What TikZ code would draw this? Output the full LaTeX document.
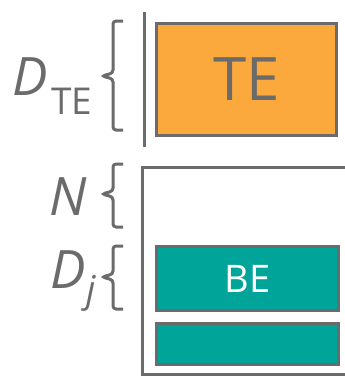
\documentclass[tikz,border=0pt]{standalone}
\usepackage{fontspec}
\setmainfont{Open Sans}
\definecolor{lgray}{HTML}{6B6B6B}
\definecolor{orng}{HTML}{FBA93D}
\definecolor{teal2}{HTML}{00A499}
\begin{document}
\begin{tikzpicture}[x=1pt,y=-1pt,
  box/.style={draw=lgray,line width=3pt,inner sep=0pt},
  brc/.style={draw=lgray,line width=3pt,rounded corners=3pt},
  lbl/.style={text=lgray,inner sep=0pt,anchor=base west}]
\useasboundingbox (0,0) rectangle (345,376);
% top part
\draw[draw=lgray,line width=3pt] (144,12) coordinate (vt) -- (144,147) coordinate (vb);
\node[box,fill=orng,minimum width=180pt,minimum height=112pt,anchor=north west] (te) at (155,22) {};
\node[text=lgray,font=\fontsize{60}{60}\selectfont] (tet) at (te.center) {TE};
% D_TE label
\node[lbl,font=\itshape\fontsize{53}{53}\selectfont] (dte) at (12,95) {D};
\node[lbl,font=\fontsize{37}{37}\selectfont] (dtes) at (51,114) {TE};
% braces
\draw[brc] (123,21) -- (113,21) -- (113,73) -- (102,76) -- (113,79) -- (113,130) -- (123,130);
\draw[brc] (123,164) -- (113,164) -- (113,191) -- (102,194) -- (113,197) -- (113,227) -- (123,227);
\draw[brc] (123,246) -- (113,246) -- (113,274) -- (102,277) -- (113,280) -- (113,309) -- (123,309);
% N label
\node[lbl,font=\itshape\fontsize{53}{53}\selectfont] (nl) at (49,215) {N};
% D_j label
\node[lbl,font=\itshape\fontsize{53}{53}\selectfont] (dj) at (50,288) {D};
\node[lbl,font=\itshape\fontsize{37}{37}\selectfont] (djs) at (86,302) {j};
% container
\draw[draw=lgray,line width=3pt] (345,167) coordinate (ctr) -- (142,167) coordinate (ctl) -- (142,374) coordinate (cbl) -- (345,374) coordinate (cbr);
\node[box,fill=teal2,minimum width=182pt,minimum height=64pt,anchor=north west] (be) at (155,245) {};
\node[text=white,font=\fontsize{38}{38}\selectfont] (bet) at (be.center) {BE};
\node[box,fill=teal2,minimum width=182pt,minimum height=41pt,anchor=north west] (be2) at (155,322) {};
\end{tikzpicture}
\end{document}
